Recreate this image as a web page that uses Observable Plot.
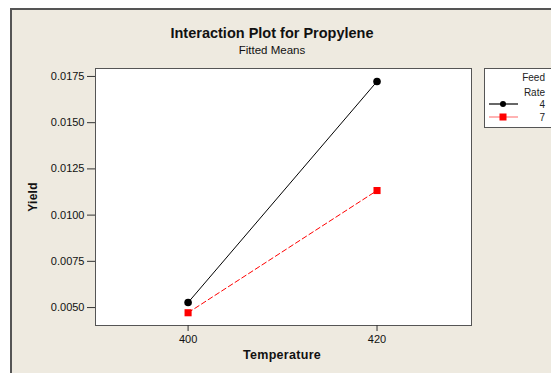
<!DOCTYPE html>
<html>
<head>
<meta charset="utf-8">
<script src="https://cdn.jsdelivr.net/npm/d3@7"></script>
<script src="https://cdn.jsdelivr.net/npm/@observablehq/plot@0.6"></script>
<style>
  html, body { margin: 0; padding: 0; background: #fff; }
  #wrap { position: relative; width: 551px; height: 373px; overflow: hidden; font-family: "Liberation Sans", Arial, sans-serif; color: #111; }
  #bg { position: absolute; left: 10px; top: 8px; width: 560px; height: 380px; background: #EEEAE0; border-left: 2px solid #555; border-top: 2px solid #555; box-sizing: border-box; }
  #chart { position: absolute; left: 0; top: 0; }
  .t { position: absolute; white-space: nowrap; }
  #title { left: 272px; top: 25px; transform: translateX(-50%); font-weight: bold; font-size: 14.5px; }
  #subtitle { left: 272px; top: 44px; transform: translateX(-50%); font-size: 11.5px; }
  #xlabel { left: 282px; top: 348px; transform: translateX(-50%); font-weight: bold; font-size: 12.5px; letter-spacing: 0.3px; }
  #ylabel { left: 33px; top: 197px; transform: translate(-50%, -50%) rotate(-90deg); font-weight: bold; font-size: 12px; letter-spacing: 0.3px; }
  #legend { position: absolute; left: 484px; top: 68px; width: 80px; height: 60px; background: #fff; border: 1px solid #555; box-sizing: border-box; }
</style>
</head>
<body>
<div id="wrap">
  <div id="bg"></div>
  <div id="chart"></div>
  <div class="t" id="title">Interaction Plot for Propylene</div>
  <div class="t" id="subtitle">Fitted Means</div>
  <div class="t" id="xlabel">Temperature</div>
  <div class="t" id="ylabel">Yield</div>
  <div id="legend"></div>
</div>
<script>
const temperatures = [400, 420];
const feedRates = ["4", "7"];
const yield4 = [0.00527, 0.01723];
const yield7 = [0.00472, 0.01133];
const yTicks = [0.005, 0.0075, 0.01, 0.0125, 0.015, 0.0175];
const xTicks = [400, 420];
const seriesColors = ["#000000", "#FF0000"];

const rows = [];
temperatures.forEach((t, i) => {
  rows.push({temp: t, rate: feedRates[0], y: yield4[i]});
  rows.push({temp: t, rate: feedRates[1], y: yield7[i]});
});
const r4 = rows.filter(d => d.rate === "4");
const r7 = rows.filter(d => d.rate === "7");

const chart = Plot.plot({
  width: 551,
  height: 373,
  marginLeft: 95,
  marginRight: 80,
  marginTop: 68,
  marginBottom: 48,
  style: {background: "transparent", fontFamily: "'Liberation Sans', Arial, sans-serif", fontSize: "11px", color: "#111"},
  x: {domain: [390.2, 430], ticks: xTicks, label: null},
  y: {domain: [0.00403, 0.01793], ticks: yTicks, label: null, tickFormat: d3.format(".4f")},
  marks: [
    Plot.frame({fill: "white", stroke: "#555"}),
    Plot.axisY({ticks: yTicks, tickFormat: d3.format(".4f"), tickSize: 8, tickPadding: 3, label: null, stroke: "#333", fill: "#111", fontSize: 11}),
    Plot.axisX({ticks: xTicks, tickSize: 6, tickPadding: 4, label: null, stroke: "#333", fill: "#111", fontSize: 11}),
    Plot.line(r4, {x: "temp", y: "y", stroke: seriesColors[0], strokeWidth: 1}),
    Plot.line(r7, {x: "temp", y: "y", stroke: seriesColors[1], strokeWidth: 1, strokeDasharray: "5,3"}),
    Plot.dot(r4, {x: "temp", y: "y", fill: seriesColors[0], r: 3.8, symbol: "circle"}),
    Plot.dot(r7, {x: "temp", y: "y", fill: seriesColors[1], r: 4, symbol: "square"})
  ]
});
document.getElementById("chart").appendChild(chart);

// legend
const lg = d3.select("#legend").append("svg").attr("width", 80).attr("height", 60)
  .style("font-family", "'Liberation Sans', Arial, sans-serif").style("font-size", "10px");
lg.append("text").attr("x", 60).attr("y", 12).attr("text-anchor", "end").attr("fill", "#222").text("Feed");
lg.append("text").attr("x", 60).attr("y", 27).attr("text-anchor", "end").attr("fill", "#222").text("Rate");
const legendLine = d3.line();
feedRates.forEach((r, i) => {
  const yy = 35 + i * 13;
  lg.append("path").attr("d", legendLine([[4, yy], [33, yy]]))
    .attr("stroke", i === 0 ? seriesColors[0] : "#FF8080").attr("stroke-width", 1.2);
  if (i === 0) lg.append("circle").attr("cx", 18).attr("cy", yy).attr("r", 3).attr("fill", seriesColors[0]);
  else lg.append("rect").attr("x", 14.5).attr("y", yy - 3.5).attr("width", 7).attr("height", 7).attr("fill", seriesColors[1]);
  lg.append("text").attr("x", 60).attr("y", yy + 3.5).attr("text-anchor", "end").attr("fill", "#222").text(r);
});
</script>
</body>
</html>
